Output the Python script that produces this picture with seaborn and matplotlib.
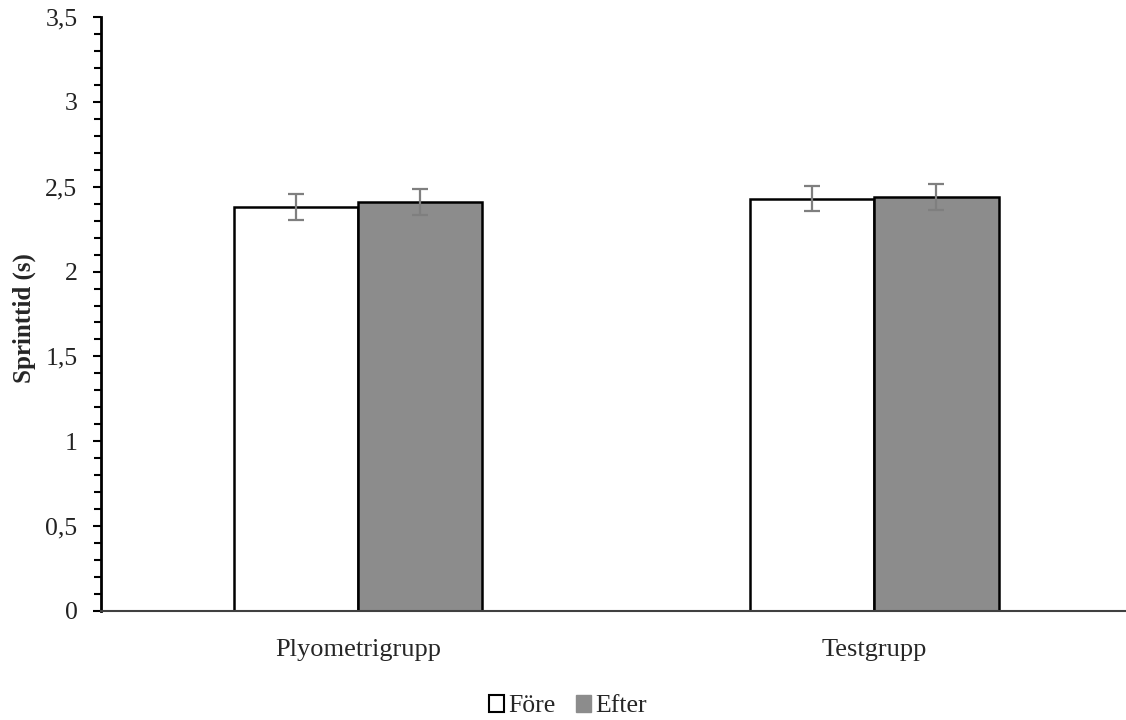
import matplotlib
matplotlib.use("Agg")
import matplotlib.pyplot as plt
import seaborn as sns
import pandas as pd
import numpy as np
from matplotlib.patches import Patch
from matplotlib.ticker import MultipleLocator, FuncFormatter

groups = ["Plyometrigrupp", "Testgrupp"]
phases = ["Före", "Efter"]
fore_vals = [2.38, 2.43]
efter_vals = [2.41, 2.44]
fore_err = [0.075, 0.074]
efter_err = [0.075, 0.075]

df = pd.DataFrame({
    "Grupp": groups * 2,
    "Tid": phases[0:1] * 2 + phases[1:2] * 2,
    "Sprinttid": fore_vals + efter_vals,
    "Err": fore_err + efter_err,
})

sns.set_theme(style="white")
plt.rcParams["font.family"] = ["Liberation Serif", "DejaVu Serif"]

fig = plt.figure(figsize=(11.26, 7.2), dpi=100)
ax = fig.add_axes([0.0897, 0.1514, 0.9103, 0.825])

palette = {"Före": "#ffffff", "Efter": "#8c8c8c"}
sns.barplot(data=df, x="Grupp", y="Sprinttid", hue="Tid", order=groups,
            hue_order=phases, palette=palette, errorbar=None, width=0.482,
            edgecolor="black", linewidth=1.8, ax=ax, legend=False, saturation=1)

# error bars at bar centres
for container, ph in zip(ax.containers, phases):
    sub = df[df["Tid"] == ph].set_index("Grupp").loc[groups]
    xs = [p.get_x() + p.get_width() / 2 for p in container.patches]
    ax.errorbar(xs, sub["Sprinttid"].values, yerr=sub["Err"].values, fmt="none",
                ecolor="#7f7f7f", elinewidth=1.6, capsize=5.8, capthick=1.6, zorder=5)

ax.set_ylim(0, 3.5)
ax.set_xlim(-0.498, 1.488)
ax.yaxis.set_major_locator(MultipleLocator(0.5))
ax.yaxis.set_minor_locator(MultipleLocator(0.1))
ax.yaxis.set_major_formatter(FuncFormatter(lambda v, p: ("%g" % v).replace(".", ",")))
ax.tick_params(axis="y", which="both", direction="out", left=True, color="black",
               width=1.5, labelsize=18.5, pad=11)
ax.tick_params(axis="y", which="major", length=6)
ax.tick_params(axis="y", which="minor", length=5)
ax.tick_params(axis="x", bottom=False, labelsize=19, pad=14)
for lbl in ax.get_yticklabels():
    lbl.set_color("#222222")

for s in ["top", "right"]:
    ax.spines[s].set_visible(False)
ax.spines["left"].set_color("black")
ax.spines["left"].set_linewidth(2)
ax.spines["bottom"].set_color("#404040")
ax.spines["bottom"].set_linewidth(1.5)

ax.set_xlabel("")
ax.set_ylabel("")
fig.text(0.022, 0.558, "Sprinttid (s)", rotation=90, ha="center", va="center",
         fontsize=18, fontweight="bold")

handles = [Patch(facecolor="#ffffff", edgecolor="black", linewidth=1.5, label="Före"),
           Patch(facecolor="#8c8c8c", edgecolor="#8c8c8c", label="Efter")]
fig.legend(handles=handles, loc="center", bbox_to_anchor=(0.504, 0.019), ncol=2,
           frameon=False, fontsize=18.5, handlelength=0.6, handleheight=0.6,
           handletextpad=0.15, columnspacing=0.8)

fig.savefig("out.png", dpi=100)
